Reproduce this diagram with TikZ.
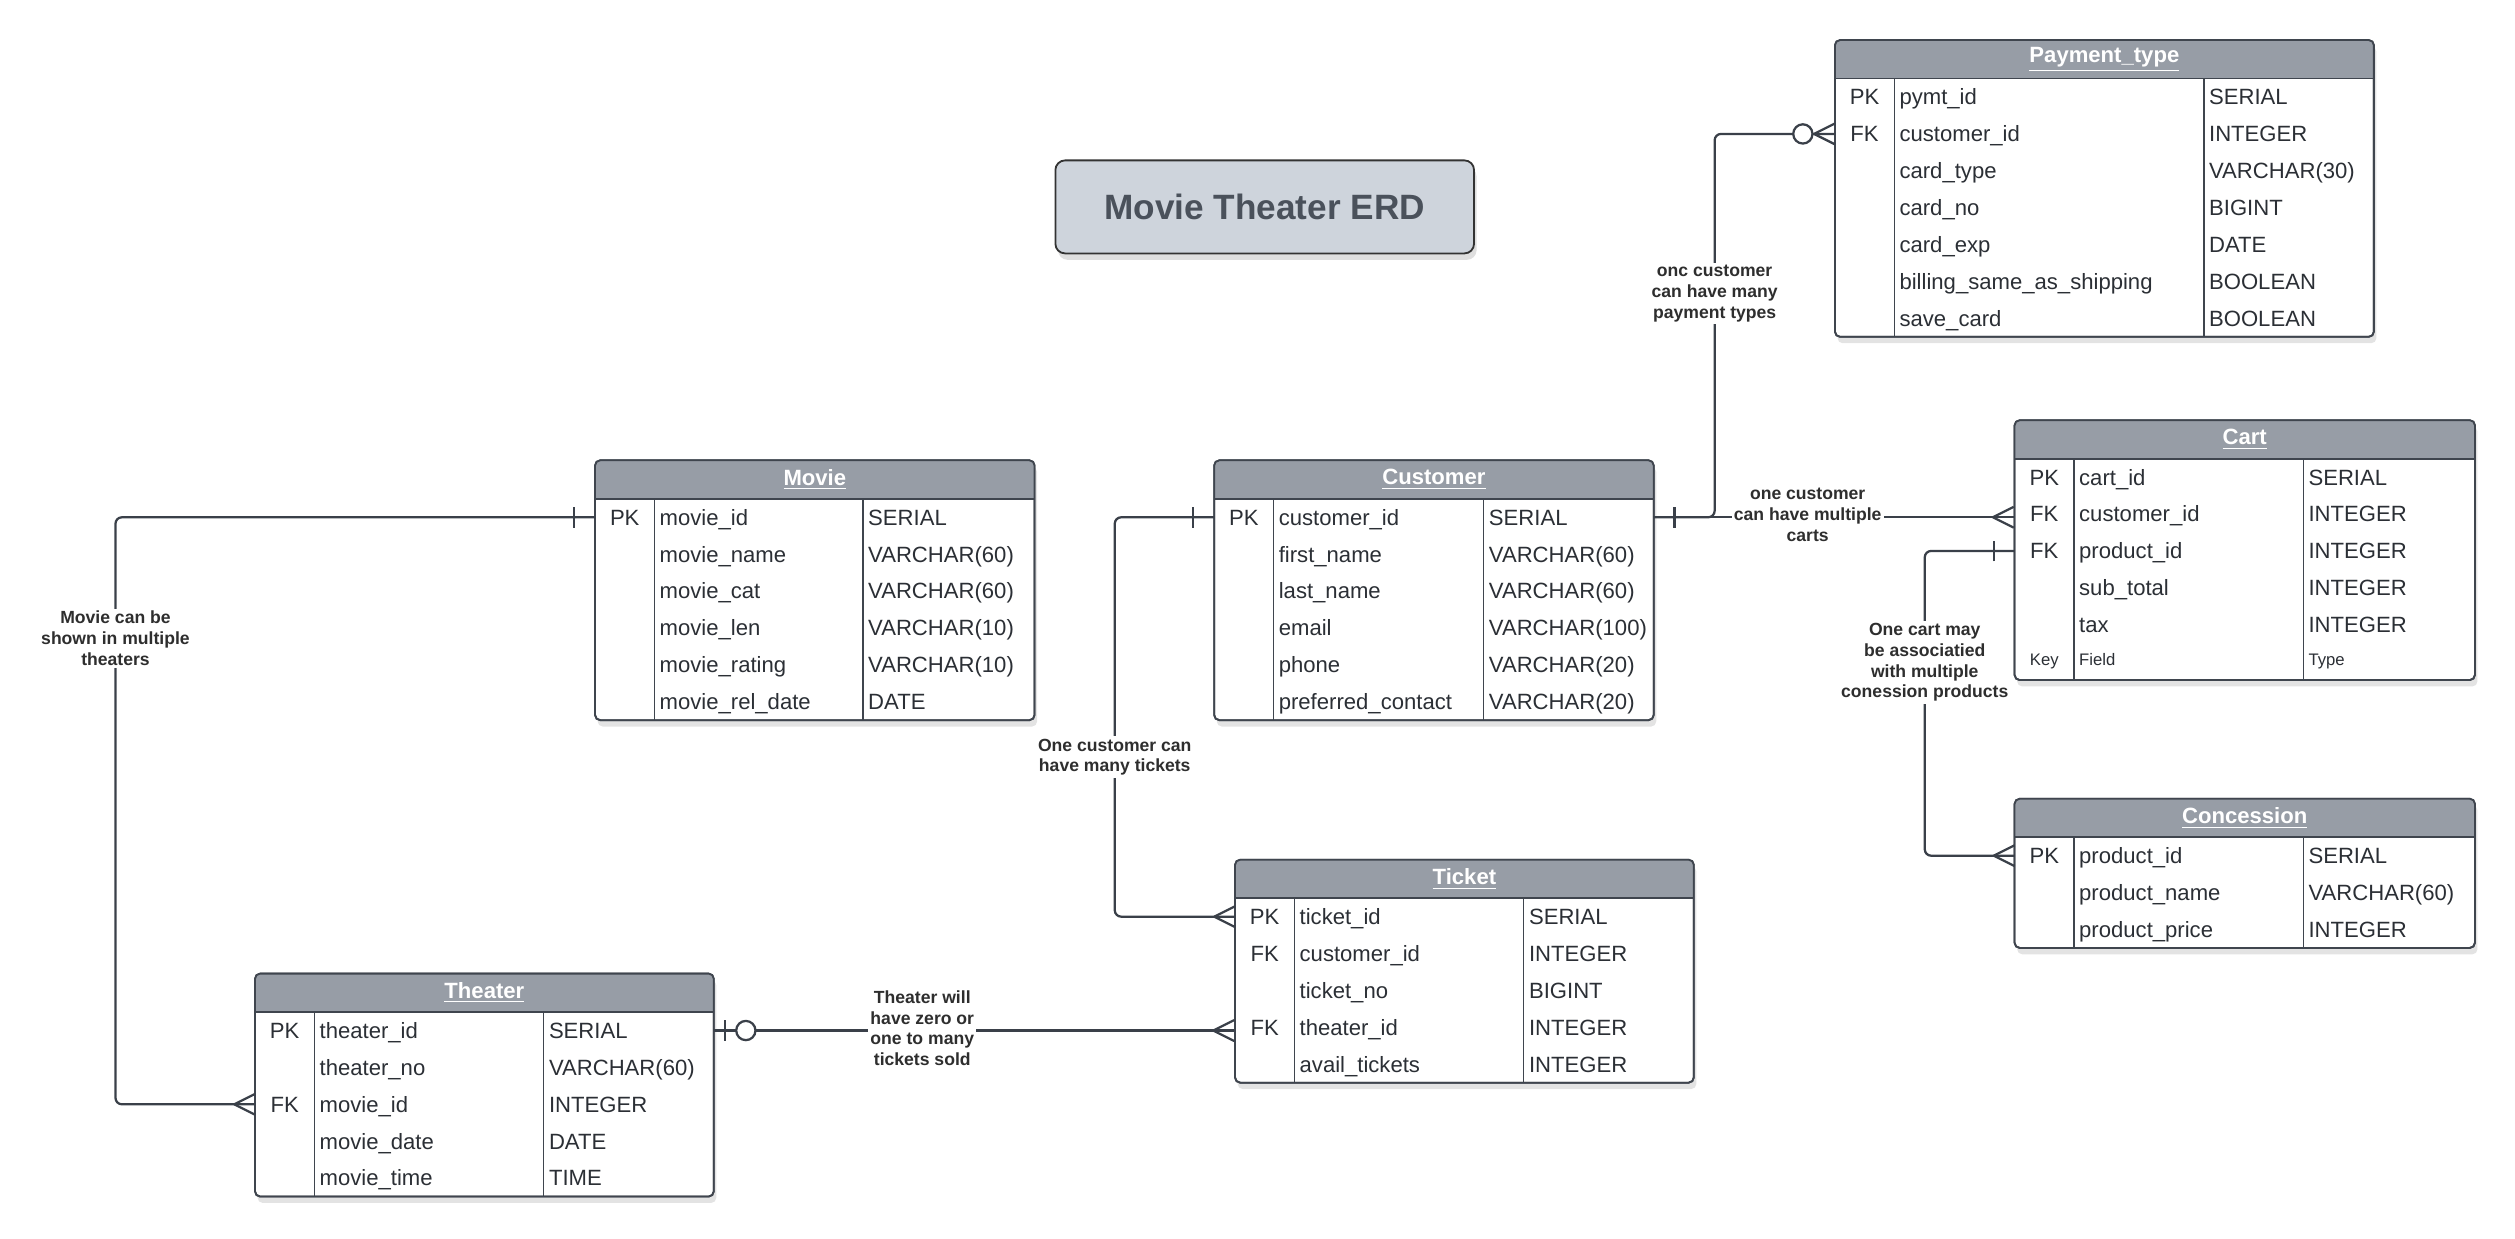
\documentclass[tikz,border=0pt]{standalone}
\usepackage{fontspec}
\setmainfont{Liberation Sans}
\usetikzlibrary{shadows,fit}
\definecolor{headfill}{HTML}{979DA6}
\definecolor{boxline}{HTML}{3F454E}
\definecolor{txt}{HTML}{2B2F35}
\definecolor{conncol}{HTML}{3A4049}
\definecolor{titlefill}{HTML}{CED4DC}
\definecolor{titletxt}{HTML}{4A515B}
\definecolor{lbltxt}{HTML}{2E2E2E}
\newcommand\keysmall[1]{\raisebox{2pt}{\fontsize{7.4}{9}\selectfont #1}}
\tikzset{
 tabbox/.style={draw=boxline, line width=0.8pt, fill=white, rounded corners=0.8mm, inner sep=0pt,
   drop shadow={shadow xshift=0.4mm, shadow yshift=-1mm, opacity=0.22}},
 headtext/.style={text=white, font=\fontsize{9.8}{11}\selectfont\bfseries, inner sep=0pt},
 keytext/.style={text=txt, font=\fontsize{9.8}{11}\selectfont, inner sep=0pt, text height=7pt, text depth=0pt},
 fieldtext/.style={keytext, anchor=west},
 conn/.style={draw=conncol, line width=1pt},
 lbl/.style={fill=white, text=lbltxt, font=\fontsize{7.8}{9.2}\selectfont\bfseries, align=center, inner sep=1pt},
 titlebox/.style={draw=black!80, line width=0.8pt, fill=titlefill, rounded corners=1.5mm,
   minimum width=65.25mm, minimum height=14.5mm, text=titletxt, font=\fontsize{15.6}{18}\selectfont\bfseries,
   drop shadow={shadow xshift=0.4mm, shadow yshift=-1mm, opacity=0.25}},
 crow/.pic={\draw[conn] (-13,0) -- (0,6.5) (-13,0) -- (0,-6.5);},
 onebar/.pic={\draw[conn] (-13,6.5) -- (-13,-6.5);},
 onenear/.pic={\draw[conn] (-7,6.5) -- (-7,-6.5);},
 zerocirc/.pic={\draw[conn, fill=white] (-20,0) circle[radius=6];},
}
% #1 name, #2 x left, #3 x right, #4 y top, #5 rows, #6 col1, #7 col2, #8 title, #9 rows list
\newcommand\erdtab[9]{%
  \pgfmathsetmacro\ybot{#4+24+23*#5}%
  \node[tabbox, fit={(#2,#4) (#3,\ybot)}] (#1) {};
  \begin{scope}
    \clip[rounded corners=0.8mm] (#2,#4) rectangle (#3,\ybot);
    \fill[headfill] (#2,#4) rectangle (#3,#4+24);
  \end{scope}
  \draw[draw=boxline, line width=0.8pt, rounded corners=0.8mm] (#2,#4) rectangle (#3,\ybot);
  \draw[draw=boxline, line width=0.8pt] (#2,#4+24) -- (#3,#4+24);
  \draw[draw=boxline, line width=0.6pt] (#6,#4+24) -- (#6,\ybot) (#7,#4+24) -- (#7,\ybot);
  \node[headtext] (#1-head) at ({(#2+#3)/2},#4+12) {\underline{#8}};
  \foreach \rk/\rf/\rt [count=\i] in {#9} {
     \pgfmathsetmacro\yr{#4+24+23*\i-11.5}
     \coordinate (#1-L\i) at (#2,\yr);
     \coordinate (#1-R\i) at (#3,\yr);
     \node[keytext] (#1-k\i) at ({(#2+#6)/2},\yr) {\rk};
     \node[fieldtext] (#1-f\i) at (#6+3,\yr) {\rf};
     \node[fieldtext] (#1-t\i) at (#7+3,\yr) {\rt};
  }
}
\begin{document}
\begin{tikzpicture}[x=0.25mm, y=-0.25mm]
\useasboundingbox (0,0) rectangle (1568,772);

\node[titlebox] (title) at (788.5,129) {Movie Theater ERD};

\erdtab{pay}{1144}{1480}{25}{7}{1181}{1374}{Payment\_type}{PK/pymt\_id/SERIAL, FK/customer\_id/INTEGER, /card\_type/VARCHAR(30), /card\_no/BIGINT, /card\_exp/DATE, /billing\_same\_as\_shipping/BOOLEAN, /save\_card/BOOLEAN}
\erdtab{cart}{1256}{1543}{262}{6}{1293}{1436}{Cart}{PK/cart\_id/SERIAL, FK/customer\_id/INTEGER, FK/product\_id/INTEGER, /sub\_total/INTEGER, /tax/INTEGER, \keysmall{Key}/\keysmall{Field}/\keysmall{Type}}
\erdtab{conc}{1256}{1543}{498}{3}{1293}{1436}{Concession}{PK/product\_id/SERIAL, /product\_name/VARCHAR(60), /product\_price/INTEGER}
\erdtab{cust}{757}{1031}{287}{6}{794}{925}{Customer}{PK/customer\_id/SERIAL, /first\_name/VARCHAR(60), /last\_name/VARCHAR(60), /email/VARCHAR(100), /phone/VARCHAR(20), /preferred\_contact/VARCHAR(20)}
\erdtab{movie}{371}{645}{287}{6}{408}{538}{Movie}{PK/movie\_id/SERIAL, /movie\_name/VARCHAR(60), /movie\_cat/VARCHAR(60), /movie\_len/VARCHAR(10), /movie\_rating/VARCHAR(10), /movie\_rel\_date/DATE}
\erdtab{ticket}{770}{1056}{536}{5}{807}{950}{Ticket}{PK/ticket\_id/SERIAL, FK/customer\_id/INTEGER, /ticket\_no/BIGINT, FK/theater\_id/INTEGER, /avail\_tickets/INTEGER}
\erdtab{theater}{159}{445}{607}{5}{196}{339}{Theater}{PK/theater\_id/SERIAL, /theater\_no/VARCHAR(60), FK/movie\_id/INTEGER, /movie\_date/DATE, /movie\_time/TIME}

% connectors
\draw[conn, rounded corners=1mm] (movie-L1) -- ++(-299,0) |- (theater-L3);
\draw[conn, rounded corners=1mm] (cust-L1) -- ++(-62,0) |- (ticket-L1);
\draw[conn] (theater-R1) -- (theater-R1 -| ticket.west);
\draw[conn] (cust-R1) -- (cust-R1 -| cart.west);
\draw[conn, rounded corners=1mm] (cust-R1) -- ++(38,0) |- (pay-L2);
\draw[conn, rounded corners=1mm] (cart-L3) -- ++(-56,0) |- (conc-L1);

% end markers
\pic at (movie-L1) {onebar};
\pic at (theater-L3) {crow};
\pic at (cust-L1) {onebar};
\pic at (ticket-L1) {crow};
\pic[xscale=-1] at (theater-R1) {onenear};
\pic[xscale=-1] at (theater-R1) {zerocirc};
\pic at (theater-R1 -| ticket.west) {crow};
\pic[xscale=-1] at (cust-R1) {onebar};
\pic at (cust-R1 -| cart.west) {crow};
\pic at (pay-L2) {zerocirc};
\pic at (pay-L2) {crow};
\pic at (cart-L3) {onebar};
\pic at (conc-L1) {crow};

% labels
\node[lbl] (lblpay) at (1069,183) {onc customer\\can have many\\payment types};
\node[lbl] (lblcart) at (1127,321) {one customer\\can have multiple\\carts};
\node[lbl] (lblconc) at (1200,413) {One cart may\\be associatied\\with multiple\\conession products};
\node[lbl] (lblmovie) at (72,398) {Movie can be\\shown in multiple\\theaters};
\node[lbl] (lblticket) at (695,472) {One customer can\\have many tickets};
\node[lbl] (lbltheater) at (575,641) {Theater will\\have zero or\\one to many\\tickets sold};
\end{tikzpicture}
\end{document}
